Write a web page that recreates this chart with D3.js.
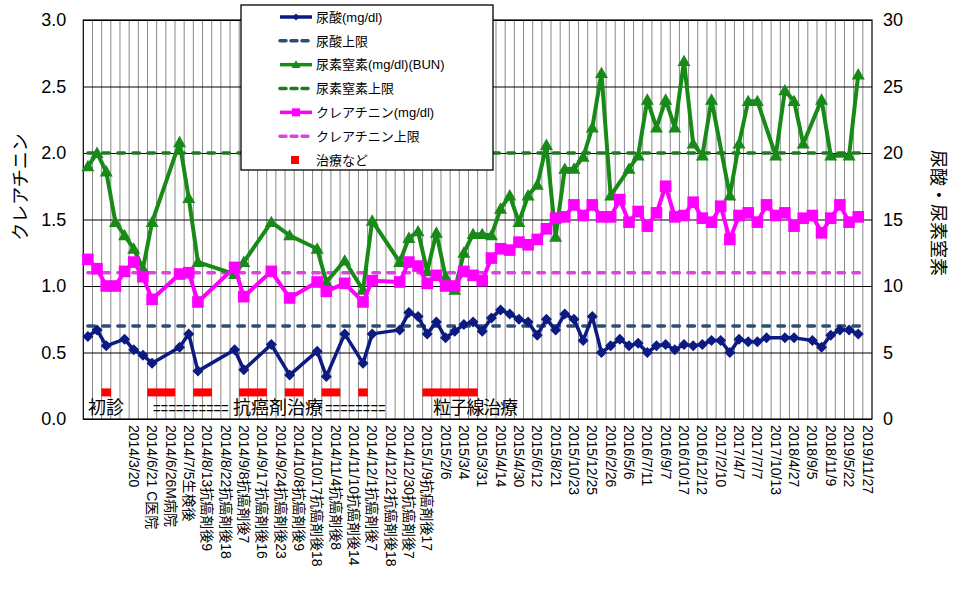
<!DOCTYPE html>
<html>
<head>
<meta charset="utf-8">
<script src="https://cdn.jsdelivr.net/npm/d3@7"></script>
<style>
  body { margin: 0; background: #fff; }
  text { font-family: "Liberation Sans", "Noto Sans CJK JP", sans-serif; }
</style>
</head>
<body>
<div id="chart"></div>
<script>
// values, one slot per category (null = no reading)
var uricAcid = [6.2,6.7,5.5,null,6.0,5.2,4.8,4.2,null,null,
  5.4,6.4,3.6,null,null,null,5.2,3.7,null,null,
  5.6,null,3.3,null,null,5.1,3.2,null,6.4,null,
  4.2,6.4,null,null,6.7,8.0,7.7,6.4,7.3,6.1,
  6.6,7.1,7.3,6.6,7.6,8.2,7.9,7.5,7.3,6.3,
  7.5,6.7,7.9,7.5,5.9,7.7,5.0,5.5,6.0,5.5,
  5.7,5.0,5.5,5.6,5.2,5.6,5.5,5.6,5.9,5.9,
  5.0,6.0,5.8,5.8,6.1,null,6.1,6.1,null,5.9,
  5.4,6.3,6.7,6.7,6.4,null];

var bun = [19.0,20.0,18.6,14.8,13.8,12.8,11.3,14.8,null,null,
  20.8,16.6,11.8,null,null,null,10.9,11.8,null,null,
  14.8,null,13.8,null,null,12.8,10.3,null,11.9,null,
  9.7,14.9,null,null,11.8,13.6,14.1,11.1,14.0,10.7,
  9.7,12.5,13.9,13.9,13.8,15.8,16.8,14.8,16.8,17.6,
  20.6,13.7,18.8,18.8,19.7,21.9,26.0,16.8,null,18.8,
  19.8,24.0,21.9,24.0,21.9,26.9,20.7,19.8,24.0,null,
  16.8,20.7,23.9,23.9,null,19.8,24.7,23.9,20.7,null,
  24.0,19.8,null,19.8,25.9,null];

var creatinine = [1.20,1.13,1.00,1.00,1.11,1.18,1.07,0.90,null,null,
  1.09,1.10,0.88,null,null,null,1.14,0.92,null,null,
  1.11,null,0.91,null,null,1.03,0.96,null,1.02,null,
  0.88,1.04,null,null,1.03,1.18,1.15,1.02,1.08,1.00,
  1.00,1.11,1.08,1.04,1.21,1.28,1.27,1.33,1.31,1.35,
  1.43,1.51,1.52,1.61,1.53,1.61,1.52,1.52,1.65,1.48,
  1.56,1.45,1.55,1.75,1.52,1.53,1.63,1.51,1.48,1.60,
  1.35,1.53,1.55,1.48,1.61,1.53,1.55,1.45,1.51,1.53,
  1.40,1.51,1.61,1.48,1.52,null];

var treatDays = [2,7,8,9,12,13,17,18,19,22,23,26,27,30,37,38,39,40,41,42];
var treatLevel = 0.2;

var uricLimit = 7, bunLimit = 20, creLimit = 1.1;

// labels sit on every other category, starting at category 5
var tickLabels = ["2014/3/20","2014/6/21 C医院","2014/6/26M病院","2014/7/5生検後",
  "2014/8/13抗癌剤後9","2014/8/22抗癌剤後18","2014/9/8抗癌剤後7","2014/9/17抗癌剤後16",
  "2014/9/24抗癌剤後23","2014/10/8抗癌剤後9","2014/10/17抗癌剤後18","2014/11/4抗癌剤後8",
  "2014/11/10抗癌剤後14","2014/12/1抗癌剤後7","2014/12/12抗癌剤後18","2014/12/30抗癌剤後7",
  "2015/1/9抗癌剤後17","2015/2/6","2015/3/4","2015/3/31","2015/4/14","2015/4/30",
  "2015/6/12","2015/8/21","2015/10/23","2015/12/25","2016/2/26","2016/5/6","2016/7/11",
  "2016/9/7","2016/10/17","2016/12/12","2017/2/10","2017/4/7","2017/7/7","2017/10/13",
  "2018/4/27","2018/9/5","2018/11/9","2019/5/22","2019/11/27"];
var labelStart = 5, labelStep = 2;

var leftTicks = [0,0.5,1,1.5,2,2.5,3];
var rightTicks = [0,5,10,15,20,25,30];

var W = 962, H = 590;
var L = 83.3, R = 872, T = 20, B = 419;

var svg = d3.select("#chart").append("svg").attr("width", W).attr("height", H);

var x = d3.scaleBand().domain(d3.range(uricAcid.length)).range([L, R]);
var cx = function (i) { return x(i) + x.bandwidth() / 2; };
var yL = d3.scaleLinear().domain([0, 3]).range([B, T]);
var yR = d3.scaleLinear().domain([0, 30]).range([B, T]);

// vertical gridlines between categories
svg.append("g").selectAll("line")
  .data(d3.range(1, uricAcid.length))
  .enter().append("line")
  .attr("x1", function (i) { return x(i); }).attr("x2", function (i) { return x(i); })
  .attr("y1", T).attr("y2", B)
  .style("stroke", "#888").style("stroke-width", 1);

// horizontal gridlines
svg.append("g")
  .attr("transform", "translate(" + L + ",0)")
  .call(d3.axisLeft(yL).tickValues(leftTicks).tickSize(-(R - L)).tickFormat(""))
  .call(function (g) { g.select(".domain").remove(); })
  .selectAll("line").style("stroke", "#000");

svg.append("rect").attr("x", L).attr("y", T).attr("width", R - L).attr("height", B - T)
  .style("fill", "none").style("stroke", "#000").style("stroke-width", 1.2);

// axis labels
var axL = svg.append("g").attr("transform", "translate(" + L + ",0)")
  .call(d3.axisLeft(yL).tickValues(leftTicks).tickSize(0).tickPadding(17).tickFormat(d3.format(".1f")));
var axR = svg.append("g").attr("transform", "translate(" + R + ",0)")
  .call(d3.axisRight(yR).tickValues(rightTicks).tickSize(0).tickPadding(11).tickFormat(d3.format("d")));
[axL, axR].forEach(function (a) {
  a.select(".domain").remove();
  a.selectAll("text").style("font-size", "18px").style("fill", "#000")
    .style("font-family", "'Liberation Sans', sans-serif");
});

var labelIdx = tickLabels.map(function (d, k) { return labelStart + labelStep * k; });
var axB = svg.append("g").attr("transform", "translate(0," + B + ")")
  .call(d3.axisBottom(x).tickValues(labelIdx).tickSize(0)
    .tickFormat(function (i) { return tickLabels[(i - labelStart) / labelStep]; }));
axB.select(".domain").remove();
axB.selectAll("text")
  .attr("transform", "rotate(90)")
  .attr("x", 6).attr("y", 0).attr("dy", "0.35em")
  .style("text-anchor", "start").style("font-size", "14px").style("fill", "#000");

svg.append("text").attr("transform", "translate(27,187) rotate(-90)")
  .style("text-anchor", "middle").style("font-size", "18px").text("クレアチニン");
svg.append("text").attr("transform", "translate(932,213) rotate(90)")
  .style("text-anchor", "middle").style("font-size", "18px").text("尿酸・尿素窒素");

// limit lines
function limitLine(val, y, color) {
  svg.append("line")
    .attr("x1", cx(0)).attr("x2", cx(uricAcid.length - 1))
    .attr("y1", y(val)).attr("y2", y(val))
    .style("stroke", color).style("stroke-width", 3.5)
    .style("stroke-dasharray", "6.5,8.5").style("stroke-linecap", "round");
}
limitLine(uricLimit, yR, "#2d4d72");
limitLine(bunLimit, yR, "#1f7a1f");
limitLine(creLimit, yL, "#dd44dd");

function pts(arr) {
  var out = [];
  arr.forEach(function (v, i) { if (v != null) out.push([i, v]); });
  return out;
}

var diamond = function (r) { return "M0," + (-r) + "L" + r + ",0L0," + r + "L" + (-r) + ",0Z"; };
var triangle = function (r) { return "M0," + (-r) + "L" + r + "," + (r * 0.75) + "L" + (-r) + "," + (r * 0.75) + "Z"; };
var square = function (r) { return "M" + (-r) + "," + (-r) + "H" + r + "V" + r + "H" + (-r) + "Z"; };

function drawSeries(arr, y, color, width, shape, r) {
  var p = pts(arr);
  var line = d3.line().x(function (d) { return cx(d[0]); }).y(function (d) { return y(d[1]); });
  svg.append("path").datum(p).attr("d", line)
    .style("fill", "none").style("stroke", color).style("stroke-width", width)
    .style("stroke-linejoin", "round");
  svg.append("g").selectAll("path").data(p).enter().append("path")
    .attr("transform", function (d) { return "translate(" + cx(d[0]) + "," + y(d[1]) + ")"; })
    .attr("d", shape(r)).style("fill", color);
}

drawSeries(uricAcid, yR, "#0c1a82", 3.5, diamond, 5.5);
drawSeries(bun, yR, "#178a17", 4, triangle, 6.5);
drawSeries(creatinine, yL, "#ff00ff", 4, square, 5.8);

svg.append("g").selectAll("rect").data(treatDays).enter().append("rect")
  .attr("x", function (i) { return cx(i) - 4.8; }).attr("y", yL(treatLevel) - 4)
  .attr("width", 9.6).attr("height", 8).style("fill", "#ff0000");

// annotations on the chart
var ann = svg.append("g").style("font-size", "18px").style("font-family", "'Noto Sans CJK JP', sans-serif");
ann.append("text").attr("x", 88).attr("y", 414).text("初診");
// the "=" runs are squeezed sideways like in the original
ann.append("text").attr("transform", "translate(153,414) scale(0.72,1)")
  .style("font-family", "'Liberation Sans', sans-serif").text("==========");
ann.append("text").attr("x", 233).attr("y", 414).text("抗癌剤治療");
ann.append("text").attr("transform", "translate(325,414) scale(0.72,1)")
  .style("font-family", "'Liberation Sans', sans-serif").text("========");
ann.append("text").attr("x", 433).attr("y", 414).attr("textLength", 85).text("粒子線治療");

// legend
var legendItems = [
  { name: "尿酸(mg/dl)", color: "#0c1a82", dash: null, shape: diamond, r: 3.5 },
  { name: "尿酸上限", color: "#2d4d72", dash: "6,5" },
  { name: "尿素窒素(mg/dl)(BUN)", color: "#178a17", dash: null, shape: triangle, r: 4.5 },
  { name: "尿素窒素上限", color: "#1f7a1f", dash: "6,5" },
  { name: "クレアチニン(mg/dl)", color: "#ff00ff", dash: null, shape: square, r: 4 },
  { name: "クレアチニン上限", color: "#dd44dd", dash: "6,5" },
  { name: "治療など", color: "#ff0000", marker: true }
];
var lg = svg.append("g");
lg.append("rect").attr("x", 241).attr("y", 5).attr("width", 252).attr("height", 165)
  .style("fill", "#fff").style("stroke", "#000").style("stroke-width", 1.3);
var rowY = d3.scalePoint().domain(d3.range(legendItems.length)).range([17, 160]);
legendItems.forEach(function (d, k) {
  var yy = rowY(k);
  var g = lg.append("g").attr("transform", "translate(0," + yy + ")");
  if (d.marker) {
    g.append("rect").attr("x", 291).attr("y", -4).attr("width", 8).attr("height", 8).style("fill", d.color);
  } else {
    g.append("line").attr("x1", 280).attr("x2", 312).attr("y1", 0).attr("y2", 0)
      .style("stroke", d.color).style("stroke-width", 3.5)
      .style("stroke-linecap", d.dash ? "round" : "butt")
      .style("stroke-dasharray", d.dash);
    if (d.shape) {
      g.append("path").attr("transform", "translate(296,0)").attr("d", d.shape(d.r)).style("fill", d.color);
    }
  }
  g.append("text").attr("x", 316).attr("y", 0).attr("dy", "0.36em")
    .style("font-size", "13px").text(d.name);
});
</script>
</body>
</html>
